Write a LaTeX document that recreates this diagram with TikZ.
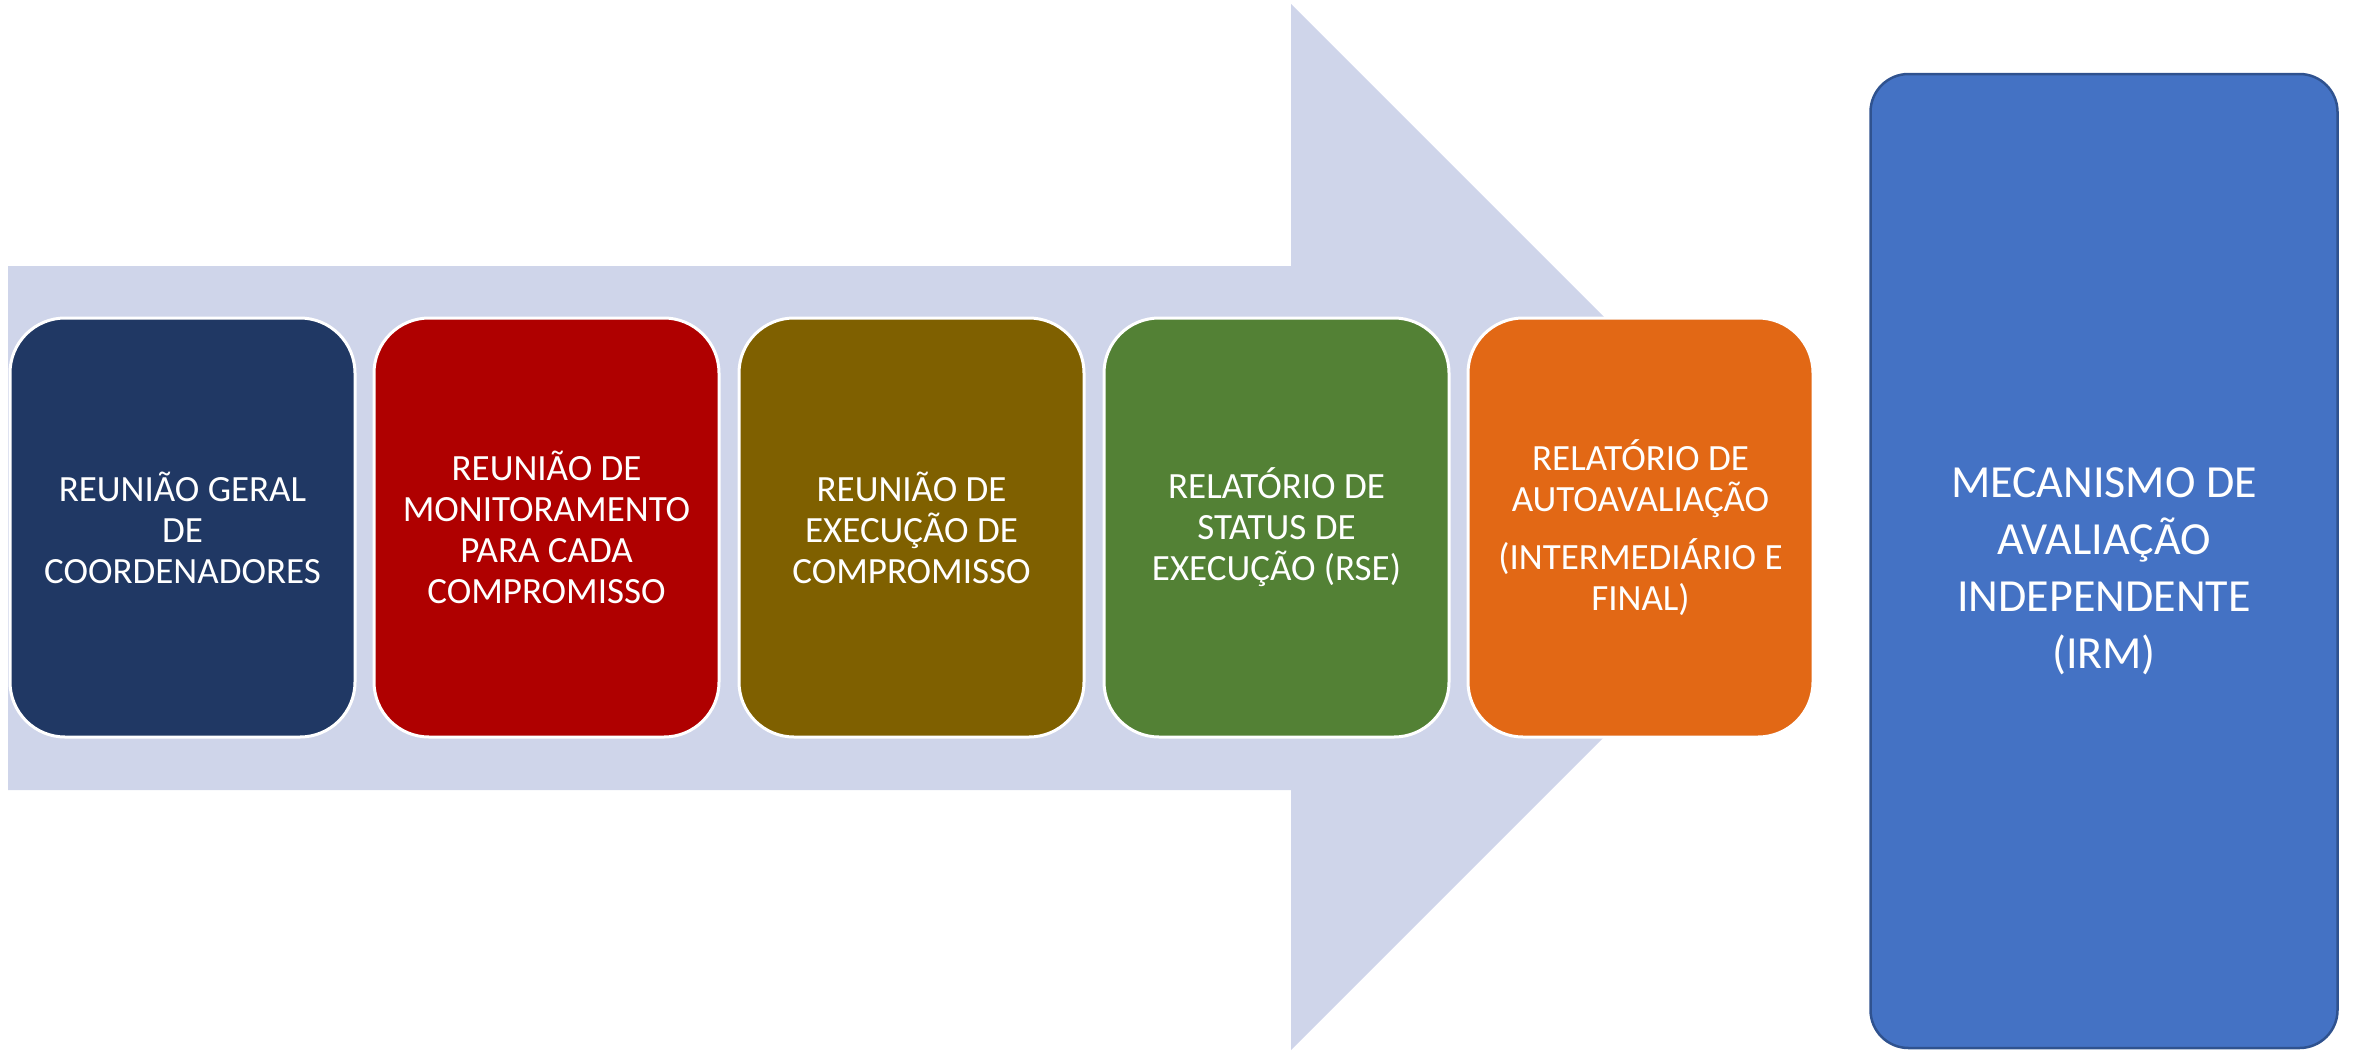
\documentclass[tikz,border=0pt]{standalone}
\usepackage{fontspec}
\setmainfont{Carlito}
\definecolor{arrowfill}{HTML}{CFD5EA}
\definecolor{cA}{HTML}{203864}
\definecolor{cB}{HTML}{AF0000}
\definecolor{cC}{HTML}{7F6000}
\definecolor{cD}{HTML}{538135}
\definecolor{cE}{HTML}{E26815}
\definecolor{cF}{HTML}{4472C4}
\definecolor{cFline}{HTML}{2F528F}
\begin{document}
\begin{tikzpicture}[x=1pt,y=-1pt,
  stepbox/.style={rectangle, rounded corners=55pt, draw=white, line width=3pt,
    minimum width=345pt, minimum height=419pt, inner sep=0pt, text=white,
    align=center, font={\fontsize{37}{41}\selectfont}},
  bigbox/.style={rectangle, rounded corners=38pt, draw=cFline, line width=2.5pt,
    fill=cF, minimum width=467pt, minimum height=974pt, inner sep=0pt},
  bigtext/.style={inner sep=0pt, text=white, align=center,
    font={\fontsize{46}{57}\selectfont}}]
\useasboundingbox (0,0) rectangle (2354,1050);
\fill[arrowfill] (8,266) -- (1291,266) -- (1291,4) -- (1814,527) -- (1291,1050) -- (1291,790) -- (8,790) -- cycle;
\node[stepbox, fill=cA] (s1) at (182.5,527.5) {REUNIÃO GERAL\\DE\\COORDENADORES};
\node[stepbox, fill=cB] (s2) at (546.5,527.5) {REUNIÃO DE\\MONITORAMENTO\\PARA CADA\\COMPROMISSO};
\node[stepbox, fill=cC] (s3) at (911.5,527.5) {REUNIÃO DE\\EXECUÇÃO DE\\COMPROMISSO};
\node[stepbox, fill=cD] (s4) at (1276.5,527.5) {RELATÓRIO DE\\STATUS DE\\EXECUÇÃO (RSE)};
\node[stepbox, fill=cE] (s5) at (1640.5,527.5) {RELATÓRIO DE\\AUTOAVALIAÇÃO\\[17pt](INTERMEDIÁRIO E\\FINAL)};
\node[bigbox] (irm) at (2104,561) {};
\node[bigtext] (irmtext) at ([yshift=-10pt]irm.center) {MECANISMO DE\\AVALIAÇÃO\\INDEPENDENTE\\(IRM)};
\end{tikzpicture}
\end{document}
